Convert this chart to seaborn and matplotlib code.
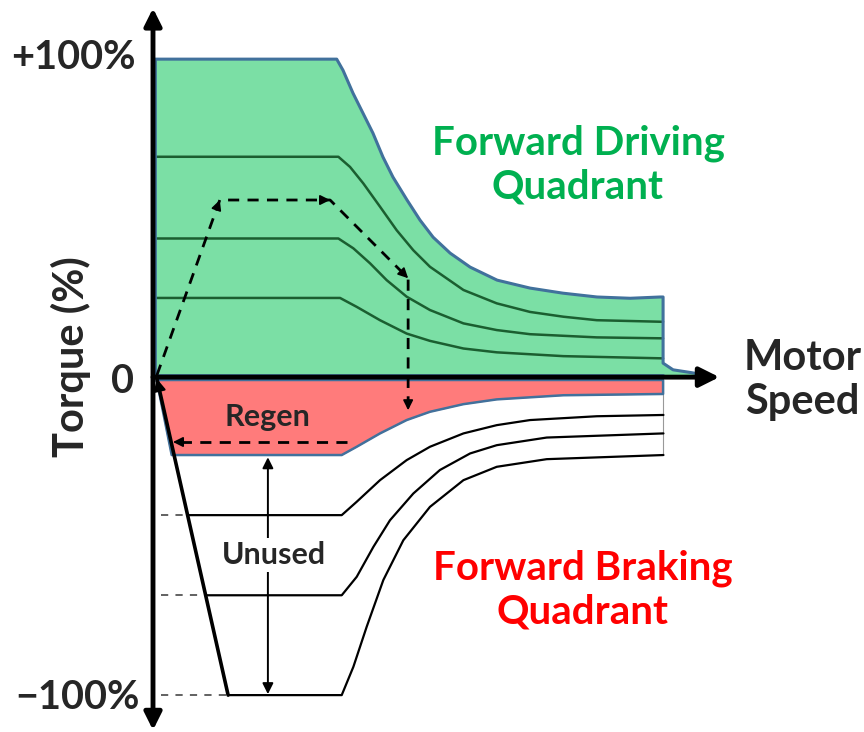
import numpy as np
import pandas as pd
import seaborn as sns
import matplotlib.pyplot as plt

# motor speed in % of base speed, torque in % of rated torque
env_speed = [0, 98.2, 101.6, 107, 112.4, 117.8, 123.2, 128.6, 136.2, 143.2, 150.3, 159.5,
             170.3, 184.9, 202.7, 220.5, 238.9, 256.8, 273, 274.6]
env_torque = [100, 100, 96.5, 89.3, 83.0, 76.7, 69.2, 62.9, 55.7, 49.4, 44.0, 39.0,
              34.6, 30.5, 28.0, 26.4, 25.2, 24.8, 25.2, 25.2]
tail_speed = [274.6, 280, 290, 298]
tail_torque = [4.4, 2.3, 1.4, 0.6]

drive_curves = {
    "d1": ([0, 99.1, 105.4, 112.6, 121.6, 130.6, 139.6, 148.6, 166.7, 184.7, 202.7, 220.7, 238.8, 274.6],
           [69.3, 69.3, 66.1, 60.9, 53.6, 46.2, 39.9, 34.7, 27.4, 23.2, 20.5, 19.0, 17.9, 17.4]),
    "d2": ([0, 99.1, 107.2, 116.2, 125.2, 136, 148.6, 166.7, 184.7, 202.7, 238.8, 274.6],
           [43.6, 43.6, 40.5, 35.8, 30.5, 25.3, 21.1, 16.9, 14.8, 13.5, 12.5, 12.2]),
    "d3": ([0, 100, 109, 121.6, 136, 148.6, 166.7, 184.7, 220.7, 274.6],
           [24.9, 24.9, 22.1, 17.9, 13.7, 11.4, 9.0, 7.8, 6.6, 5.9]),
}

regen_speed = [1, 9, 100.9, 109, 121.6, 136, 148.6, 166.7, 184.7, 220.7, 274.6]
regen_torque = [-1.3, -24.5, -24.5, -21.9, -17.7, -13.5, -10.9, -8.5, -7.0, -5.7, -5.3]
regen_top = -0.9

brake_levels = [-43.4, -68.6, -100]
brake_curves = {
    "b1": ([18, 100.9, 109, 121.6, 136, 148.6, 166.7, 184.7, 202.7, 238.8, 274.8],
           [-43.4, -43.4, -39.2, -32.4, -26.1, -21.9, -17.7, -15.1, -13.5, -12.3, -11.9]),
    "b2": ([27.6, 100.9, 109, 118, 127, 139.6, 154, 170.3, 184.7, 211.7, 274.8],
           [-68.6, -68.6, -62.8, -53.4, -45.0, -36.6, -29.2, -24.0, -21.4, -19.0, -17.7]),
    "b3": ([39.5, 100.9, 107.2, 114.4, 123.4, 134.2, 148.6, 166.7, 184.7, 211.7, 274.8],
           [-100, -100, -91.1, -78.5, -63.8, -51.3, -40.8, -32.4, -28.2, -25.8, -24.5]),
}
decel_speed = [1, 39.5]
decel_torque = [-0.5, -100]

traj_speed = [1, 35, 94.6, 136.8, 136.8]
traj_torque = [0.6, 55.7, 55.7, 31.1, -10.4]
return_speed = [104, 9.7]
return_torque = [-20.4, -20.4]

unused_speed = 61
unused_span = [-25.2, -99.7]

GREEN_FILL = "#7BDFA5"
RED_FILL = "#FF7B7B"
EDGE = "#41719C"
DARK_GREEN = "#1B5E30"

sns.set_style("white")
plt.rcParams["font.family"] = ["Lato", "DejaVu Sans"]

fig = plt.figure(figsize=(8.64, 7.32), dpi=100)
ax = fig.add_axes([0, 0, 1, 1])
ax.set_xlim(-83.8, 383.2)
ax.set_ylim(-111.6, 118.6)
ax.axis("off")

# driving quadrant region
gx = [0] + env_speed + tail_speed + [298, 0]
gy = [0] + env_torque + tail_torque + [0, 0]
ax.fill(gx, gy, color=GREEN_FILL, zorder=1)
sns.lineplot(x=env_speed + tail_speed, y=env_torque + tail_torque, sort=False,
             estimator=None, color=EDGE, lw=2.2, ax=ax, zorder=3)
ax.plot([0, 0], [0, 100], color=EDGE, lw=2, zorder=3)
ax.plot([0, 274.6], [0.6, 0.6], color=EDGE, lw=2, zorder=3)

for key, (sp, tq) in drive_curves.items():
    sns.lineplot(x=sp, y=tq, sort=False, estimator=None,
                 color=DARK_GREEN, lw=1.8, ax=ax, zorder=2)

# regen region
rx = regen_speed + [274.6, 1]
ry = regen_torque + [regen_top, regen_top]
ax.fill(rx, ry, color=RED_FILL, zorder=1)
ax.plot(rx + [rx[0]], ry + [ry[0]], color=EDGE, lw=1.8, zorder=3)

# braking curves
for (key, (sp, tq)), lvl in zip(brake_curves.items(), brake_levels):
    sns.lineplot(x=sp, y=tq, sort=False, estimator=None, color="black", lw=1.6, ax=ax, zorder=2)
    ax.plot([3, sp[0]], [lvl, lvl], color="#555555", lw=1.3, ls=(0, (4, 4)), zorder=2)
ax.plot([274.6, 274.6], [regen_top, brake_curves["b3"][1][-1]], color="#999999", lw=0.8, zorder=1)

sns.lineplot(x=decel_speed, y=decel_torque, sort=False, estimator=None, color="black", lw=2.6, ax=ax, zorder=4)
ax.annotate("", xy=(decel_speed[0], decel_torque[0]), xytext=(decel_speed[0] + 1.2, decel_torque[0] - 3),
            arrowprops=dict(arrowstyle="-|>", color="black", lw=1.5, mutation_scale=18, shrinkA=0, shrinkB=0), zorder=5)


def head(ax, p0, p1, ms=15):
    d = np.array(p1) - np.array(p0)
    d = d / np.hypot(*d)
    ax.annotate("", xy=p1, xytext=tuple(np.array(p1) - d * 2.5),
                arrowprops=dict(arrowstyle="-|>", color="black", lw=1.2, mutation_scale=ms,
                                shrinkA=0, shrinkB=0), zorder=6)


# operating trajectory
sns.lineplot(x=traj_speed, y=traj_torque, sort=False, estimator=None, color="black",
             lw=2, ls=(0, (4, 3)), ax=ax, zorder=5)
for i in range(1, len(traj_speed)):
    head(ax, (traj_speed[i - 1], traj_torque[i - 1]), (traj_speed[i], traj_torque[i]))
sns.lineplot(x=return_speed, y=return_torque, sort=False, estimator=None, color="black",
             lw=2, ls=(0, (4, 3)), ax=ax, zorder=5)
head(ax, (return_speed[0], return_torque[0]), (return_speed[1], return_torque[1]))

# unused span
ax.annotate("", xy=(unused_speed, unused_span[0]), xytext=(unused_speed, unused_span[1]),
            arrowprops=dict(arrowstyle="<|-|>", color="black", lw=1.4, mutation_scale=16,
                            shrinkA=0, shrinkB=0), zorder=4)
ax.text(unused_speed + 3, -56, "Unused", ha="center", va="center", fontsize=22, fontweight="bold",
        zorder=6, bbox=dict(facecolor="white", edgecolor="none", pad=2))
ax.text(60.5, -12.6, "Regen", ha="center", va="center", fontsize=22, fontweight="bold", zorder=6)

# axes arrows
ax.annotate("", xy=(-1.1, 116), xytext=(-1.1, -111),
            arrowprops=dict(arrowstyle="<|-|>", color="black", lw=3.5, mutation_scale=26,
                            shrinkA=0, shrinkB=0), zorder=7)
ax.annotate("", xy=(305, 0), xytext=(-1.1, 0),
            arrowprops=dict(arrowstyle="-|>", color="black", lw=3.5, mutation_scale=30,
                            shrinkA=0, shrinkB=0), zorder=7)

ax.text(-10.5, 100.5, "+100%", ha="right", va="center", fontsize=28.5, fontweight="bold")
ax.text(-11.5, -1.5, "0", ha="right", va="center", fontsize=28.5, fontweight="bold")
ax.text(-8.5, -100.6, "\u2212100%", ha="right", va="center", fontsize=28.5, fontweight="bold")
ax.text(-45.4, 6.6, "Torque (%)", ha="center", va="center", rotation=90, fontsize=30, fontweight="bold")
ax.text(350, -1, "Motor\nSpeed", ha="center", va="center", fontsize=30, fontweight="bold", linespacing=1.2)
ax.text(228.6, 66.7, "Forward Driving\nQuadrant", ha="center", va="center", fontsize=29,
        fontweight="bold", color="#00B050", linespacing=1.2)
ax.text(231, -67, "Forward Braking\nQuadrant", ha="center", va="center", fontsize=29,
        fontweight="bold", color="#FF0000", linespacing=1.2)

fig.savefig("out.png", dpi=100)
